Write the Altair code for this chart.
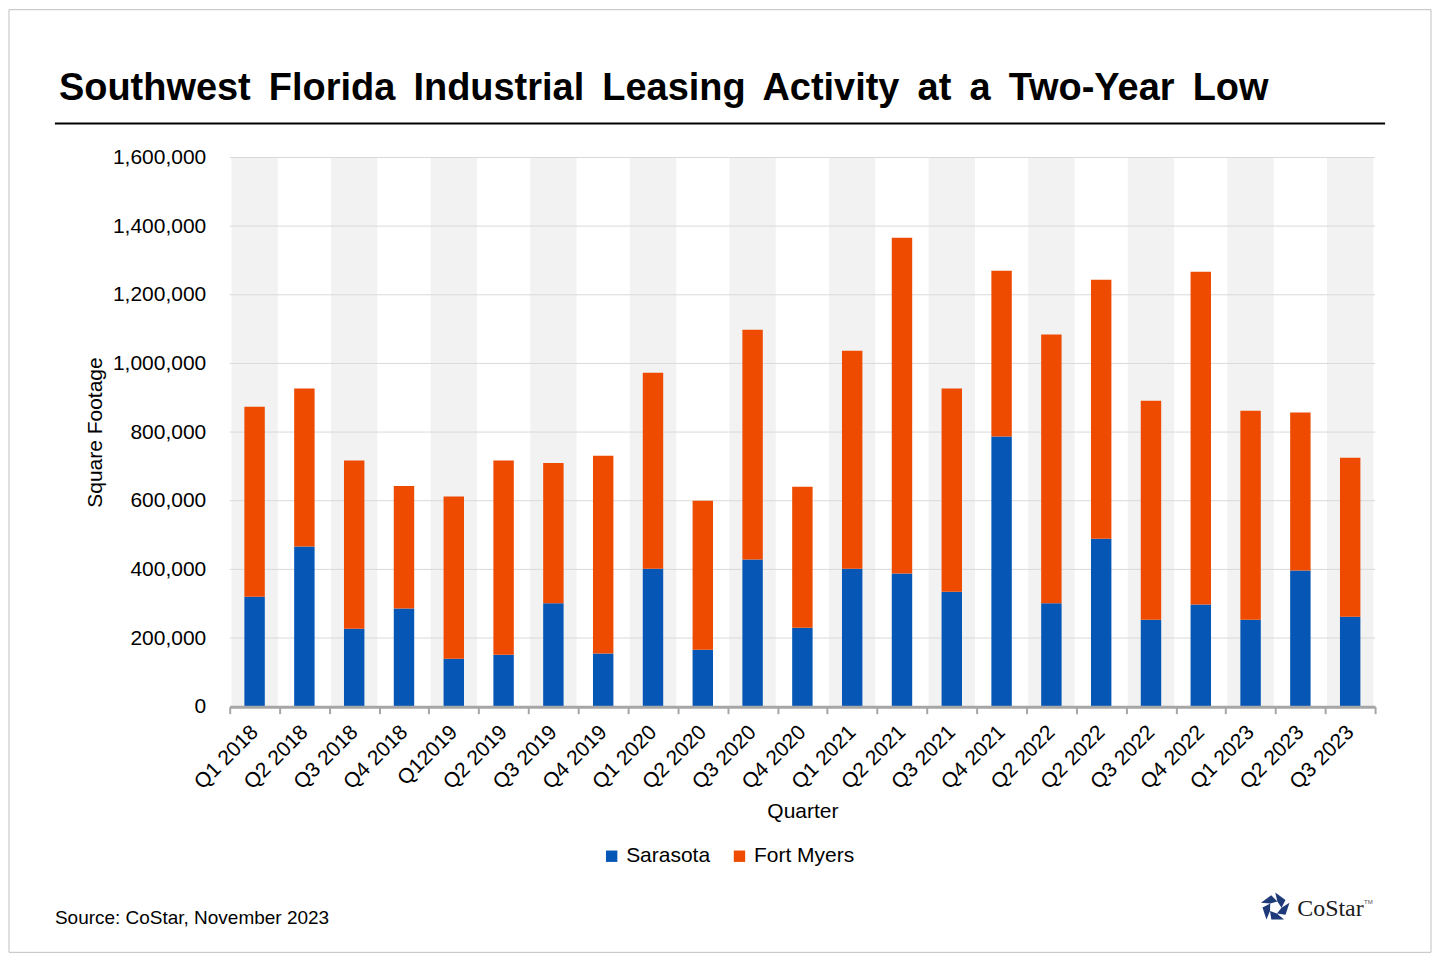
import json
import math

import altair as alt
import pandas as pd

# quarter labels as printed on the original (the 17th bar is labelled "Q2 2022" twice)
quarters = ["Q1 2018", "Q2 2018", "Q3 2018", "Q4 2018", "Q12019", "Q2 2019",
            "Q3 2019", "Q4 2019", "Q1 2020", "Q2 2020", "Q3 2020", "Q4 2020",
            "Q1 2021", "Q2 2021", "Q3 2021", "Q4 2021", "Q2 2022", "Q2 2022",
            "Q3 2022", "Q4 2022", "Q1 2023", "Q2 2023", "Q3 2023"]
sarasota = [320000, 467000, 227000, 286000, 140000, 151000, 301000, 155000,
            402000, 166000, 429000, 230000, 402000, 388000, 335000, 787000,
            301000, 489000, 253000, 298000, 253000, 397000, 262000]
fort_myers = [554000, 460000, 490000, 357000, 472000, 566000, 409000, 576000,
              571000, 434000, 669000, 411000, 635000, 978000, 592000, 483000,
              783000, 755000, 638000, 969000, 609000, 460000, 463000]
series = ["Sarasota", "Fort Myers"]
colors = ["#0556b5", "#ee4a00"]
y_ticks = [0, 200000, 400000, 600000, 800000, 1000000, 1200000, 1400000, 1600000]
y_max = 1600000

title_text = "Southwest Florida Industrial Leasing Activity at a Two-Year Low"
source_text = "Source: CoStar, November 2023"

FONT = "Liberation Sans"
W, H = 1147, 550

rows = []
for i in range(len(quarters)):
    rows.append({"i": i, "series": "Sarasota", "value": sarasota[i], "ord": 0})
    rows.append({"i": i, "series": "Fort Myers", "value": fort_myers[i], "ord": 1})
df = pd.DataFrame(rows)

bands = pd.DataFrame({"i": [i for i in range(len(quarters)) if i % 2 == 0]})
bands["top"] = y_max

grid = pd.DataFrame({"v": y_ticks[1:]})

one = pd.DataFrame({"a": [0]})

x_enc = alt.X("i:O", title="Quarter",
              scale=alt.Scale(paddingInner=0, paddingOuter=0),
              axis=alt.Axis(labelExpr=json.dumps(quarters) + "[datum.value]",
                            labelAngle=-45, labelAlign="right",
                            labelBaseline="middle", labelFontSize=21,
                            labelColor="#000", labelPadding=15, tickBand="extent",
                            tickSize=7, tickWidth=2, tickColor="#a6a6a6",
                            domainColor="#a6a6a6", domainWidth=3, grid=False,
                            titleFontSize=21, titleFontWeight="normal",
                            titleColor="#000", titlePadding=8, zindex=1))
y_axis = alt.Axis(values=y_ticks, format=",d", labelFontSize=21, labelColor="#000",
                  labelPadding=24, domain=False, ticks=False, grid=False,
                  titleFontSize=21, titleFontWeight="normal",
                  titleColor="#000", titlePadding=7)
y_scale = alt.Scale(domain=[0, y_max], nice=False)

border = alt.Chart(one).mark_rect(fill="white", fillOpacity=0, stroke="#c0c0c0",
                                  strokeWidth=1).encode(
    x=alt.value(-221), x2=alt.value(1203), y=alt.value(-148), y2=alt.value(796))

band_layer = alt.Chart(bands).mark_bar(color="#f2f2f2",
                                       width=alt.RelativeBandSize(0.93)).encode(
    x=x_enc,
    y=alt.Y("top:Q", title="Square Footage", scale=y_scale, axis=y_axis))

grid_layer = alt.Chart(grid).mark_rule(color="#d9d9d9", strokeWidth=1).encode(
    y=alt.Y("v:Q", title="Square Footage", scale=y_scale, axis=y_axis))

bar_layer = alt.Chart(df).mark_bar(width=alt.RelativeBandSize(0.41)).encode(
    x=x_enc,
    y=alt.Y("value:Q", title="Square Footage", stack=True, scale=y_scale, axis=y_axis),
    color=alt.Color("series:N", scale=alt.Scale(domain=series, range=colors),
                    legend=alt.Legend(title=None, orient="none", legendX=372,
                                      legendY=689, direction="horizontal",
                                      symbolType="square", symbolSize=130,
                                      symbolStrokeWidth=0, labelFontSize=21,
                                      labelColor="#000", columnPadding=18,
                                      labelOffset=4)),
    order=alt.Order("ord:Q"))

# the original sets its title with wide word spacing
title = alt.Chart(one).mark_text(text=title_text.replace(" ", "\u2009 "), fontSize=38,
                                 fontWeight="bold", align="left",
                                 baseline="alphabetic", color="#000").encode(
    x=alt.value(-171), y=alt.value(-58))

rule = alt.Chart(one).mark_rule(color="#000", strokeWidth=2).encode(
    x=alt.value(-175), x2=alt.value(1157), y=alt.value(-34))

source = alt.Chart(one).mark_text(text=source_text, fontSize=19, align="left",
                                  baseline="alphabetic", color="#000").encode(
    x=alt.value(-175), y=alt.value(768))

# CoStar mark: five blades around a pentagonal hole
blades = []
for k in range(5):
    a0 = math.radians(-90 + 72 * k)
    a1 = math.radians(-90 + 72 * (k + 1))
    p0 = (math.cos(a0), math.sin(a0))
    p1 = (math.cos(a1), math.sin(a1))
    e = (p0[0] + 0.72 * (p1[0] - p0[0]), p0[1] + 0.72 * (p1[1] - p0[1]))
    i1 = (0.42 * math.cos(a1 + 0.35), 0.42 * math.sin(a1 + 0.35))
    i0 = (0.42 * math.cos(a0 + 0.35), 0.42 * math.sin(a0 + 0.35))
    pts = [p0, e, i1, i0]
    blades.append("M" + "L".join("%.3f,%.3f" % p for p in pts) + "Z")
logo_path = " ".join(blades)

logo_icon = alt.Chart(one).mark_point(shape=logo_path, filled=True, size=900,
                                      color="#1f3a78", opacity=1).encode(
    x=alt.value(1047), y=alt.value(751))
logo_text = alt.Chart(one).mark_text(text="CoStar", font="Liberation Serif",
                                     fontSize=24, align="left",
                                     baseline="alphabetic", color="#1b1b1b").encode(
    x=alt.value(1069), y=alt.value(760))
logo_tm = alt.Chart(one).mark_text(text="TM", fontSize=6, align="left",
                                   baseline="alphabetic", color="#555").encode(
    x=alt.value(1136), y=alt.value(748))

chart = alt.layer(border, band_layer, grid_layer, bar_layer, title, rule, source,
                  logo_icon, logo_text, logo_tm).properties(
    width=W, height=H, padding=0
).configure(font=FONT).configure_view(strokeWidth=0)

chart.save("out.html", embed_options={"renderer": "svg", "actions": False})
